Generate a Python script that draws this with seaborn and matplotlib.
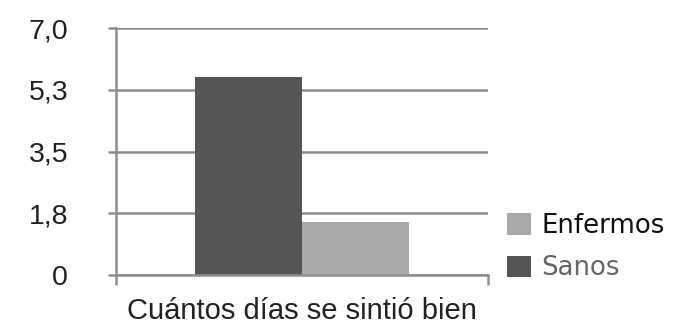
import matplotlib
matplotlib.use("Agg")
import matplotlib.pyplot as plt
import seaborn as sns
import pandas as pd
from matplotlib.patches import Patch

# Data
category = ["Cuántos días se sintió bien"]
groups = ["Sanos", "Enfermos"]
sanos = [5.6]
enfermos = [1.5]
y_ticks = [0, 1.75, 3.5, 5.25, 7.0]
y_tick_labels = ["0", "1,8", "3,5", "5,3", "7,0"]

colors = {"Sanos": "#555555", "Enfermos": "#a9a9a9"}
grid_color = "#8e8e8e"

df = pd.DataFrame({
    "categoria": category * 2,
    "grupo": ["Sanos"] * len(sanos) + ["Enfermos"] * len(enfermos),
    "valor": sanos + enfermos,
})

sns.set_theme(style="white")
plt.rcParams["font.family"] = ["Liberation Sans", "DejaVu Sans"]

fig = plt.figure(figsize=(6.9, 3.26), dpi=100)
ax = fig.add_axes([116 / 690, 1 - 275 / 326, (488 - 116) / 690, (275 - 28) / 326])

sns.barplot(data=df, x="categoria", y="valor", hue="grupo", hue_order=groups,
            palette=colors, width=0.575, saturation=1, ax=ax, legend=False,
            edgecolor="none", linewidth=0)

ax.set_xlim(-0.5, 0.5)
ax.set_ylim(0, 7.0)
ax.set_yticks(y_ticks)
ax.set_yticklabels(y_tick_labels)
ax.set_xticks([-0.5, 0.5])
ax.set_xticklabels(["", ""])
ax.yaxis.grid(True, color=grid_color, linewidth=1.8)
ax.set_axisbelow(True)

for side in ["top", "right"]:
    ax.spines[side].set_visible(False)
for side in ["left", "bottom"]:
    ax.spines[side].set_color(grid_color)
    ax.spines[side].set_linewidth(1.8)

ax.tick_params(axis="y", length=6, width=1.8, color=grid_color, pad=28.5,
               labelsize=20.5, labelcolor="#222222", left=True, direction="out")
ax.tick_params(axis="x", length=7, width=1.8, color=grid_color, bottom=True,
               direction="out")

ax.set_ylabel("")
ax.set_xlabel("Cuántos días se sintió bien", fontsize=21, color="#222222",
              labelpad=5)

handles = [Patch(facecolor=colors["Enfermos"], edgecolor="none"),
           Patch(facecolor=colors["Sanos"], edgecolor="none")]
leg = fig.legend(handles, ["Enfermos", "Sanos"], loc="upper left",
                 bbox_to_anchor=(497 / 690, 1 - 203 / 326), frameon=False,
                 prop={"family": "DejaVu Sans", "size": 18.7},
                 handlelength=0.92, handleheight=0.92, handletextpad=0.4,
                 labelspacing=0.62, borderaxespad=0)
leg.get_texts()[0].set_color("#111111")
leg.get_texts()[1].set_color("#666666")

fig.savefig("out.png", dpi=100)
